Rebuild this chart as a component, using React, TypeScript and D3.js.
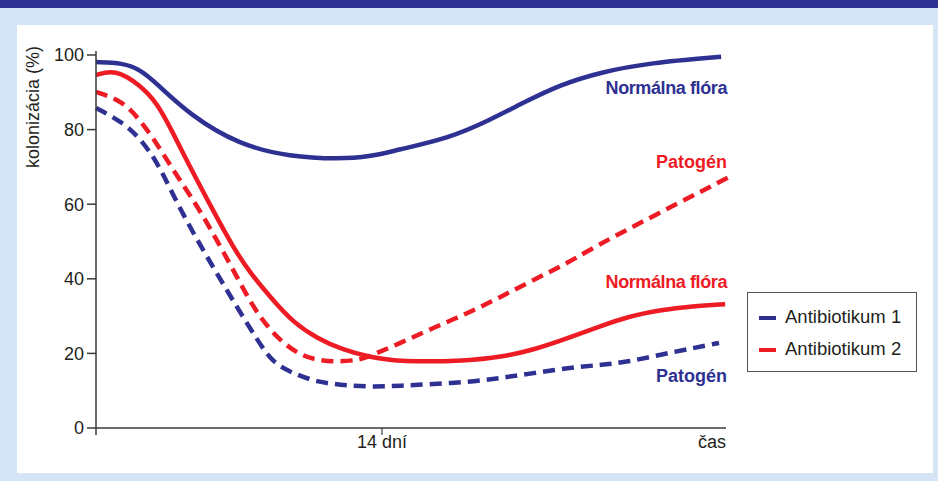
import React from "react";
import * as d3 from "d3";

// x = days, y = colonization (%)
const xTicks = [14];
const xTickLabels = ["14 dní"];
const yTicks = [0, 20, 40, 60, 80, 100];

const a1NormalDays = [0, 1.3, 2.2, 3.0, 4.6, 7.0, 9.5, 11.9, 13.4, 14.7, 17.3, 19.3, 20.8, 22.7, 24.7, 27.1, 30.6];
const a1NormalVals = [98.1, 97.9, 96.0, 92.2, 83.9, 75.9, 72.7, 72.1, 72.7, 74.5, 77.7, 82.6, 86.9, 92.0, 95.4, 97.9, 99.5];

const a2NormalDays = [0, 0.93, 2.15, 3.0, 3.77, 4.6, 5.43, 6.7, 7.54, 8.66, 9.64, 10.8, 12.1, 13.4, 14.9, 18.2, 19.8, 21.4, 23.1, 24.7, 26.0, 27.6, 29.2, 30.8];
const a2NormalVals = [94.6, 96.2, 92.0, 87.1, 79.1, 70.0, 61.4, 48.5, 41.6, 34.3, 28.4, 24.1, 20.9, 19.0, 17.7, 18.0, 19.0, 20.9, 24.1, 27.3, 29.8, 31.6, 32.7, 33.2];

const a2PathDays = [0, 1.3, 2.15, 3.0, 3.77, 4.6, 5.6, 6.9, 7.7, 8.4, 9.15, 10.0, 10.8, 11.8, 12.8, 13.3, 14.9, 16.5, 18.2, 19.8, 21.4, 23.1, 24.7, 31.0];
const a2PathVals = [90.1, 87.7, 82.6, 76.1, 69.2, 62.5, 53.6, 40.5, 32.4, 27.1, 22.8, 19.6, 18.2, 17.7, 18.2, 19.0, 22.8, 26.8, 30.8, 35.1, 39.7, 44.2, 49.6, 67.3];

const a1PathDays = [0, 1.3, 2.15, 3.0, 3.77, 4.75, 5.9, 6.9, 7.9, 8.66, 9.64, 10.8, 12.1, 13.4, 14.9, 16.5, 18.2, 19.8, 21.4, 23.1, 24.7, 26.0, 27.6, 29.2, 30.5];
const a1PathVals = [85.8, 82.0, 77.7, 71.3, 62.5, 52.3, 41.6, 32.4, 23.6, 17.4, 14.7, 12.3, 11.5, 11.0, 11.3, 11.8, 12.3, 13.4, 14.7, 16.1, 16.9, 17.7, 19.6, 21.4, 22.8];

const legendLabels = ["Antibiotikum 1", "Antibiotikum 2"];
const yAxisTitle = "kolonizácia (%)";
const xAxisEnd = "čas";

const BLUE = "#2e3192";
const RED = "#ed1c24";
const FONT = "'Liberation Sans', Arial, Helvetica, sans-serif";

export default function App() {
  const W = 938, H = 481;
  const x = d3.scaleLinear().domain([0, 30.84]).range([96, 726]);
  const y = d3.scaleLinear().domain([0, 100]).range([428, 55]);
  const line = d3
    .line<[number, number]>()
    .x((d) => x(d[0]))
    .y((d) => y(d[1]))
    .curve(d3.curveBasis);
  const zip = (a: number[], b: number[]) => a.map((v, i) => [v, b[i]] as [number, number]);

  const series = [
    { d: zip(a1NormalDays, a1NormalVals), color: BLUE, dash: null },
    { d: zip(a2NormalDays, a2NormalVals), color: RED, dash: null },
    { d: zip(a2PathDays, a2PathVals), color: RED, dash: "12,7" },
    { d: zip(a1PathDays, a1PathVals), color: BLUE, dash: "12,7" },
  ];

  const labels = [
    { t: "Normálna flóra", color: BLUE, y: 94, ls: -0.4 },
    { t: "Patogén", color: RED, y: 168, ls: 0 },
    { t: "Normálna flóra", color: RED, y: 288, ls: -0.4 },
    { t: "Patogén", color: BLUE, y: 382, ls: 0 },
  ];

  const axisColor = "#3a3a3a";

  return (
    <svg
      width={W}
      height={H}
      style={{ position: "absolute", left: 0, top: 0, display: "block" }}
      fontFamily={FONT}
    >
      <rect x={0} y={0} width={W} height={H} fill="#d5e5f5" />
      <rect x={0} y={0} width={W} height={8} fill={BLUE} />
      <rect x={17} y={25} width={916} height={448} fill="#fff" />

      {/* series */}
      {series.map((s, i) => (
        <path
          key={i}
          d={line(s.d) || ""}
          fill="none"
          stroke={s.color}
          strokeWidth={4.5}
          strokeDasharray={s.dash || undefined}
          strokeLinejoin="round"
        />
      ))}

      {/* y axis */}
      <line x1={x(0)} x2={x(0)} y1={y(100) - 4} y2={435} stroke={axisColor} strokeWidth={1.5} />
      {yTicks.map((t) => (
        <g key={t}>
          <line x1={87} x2={x(0)} y1={y(t)} y2={y(t)} stroke={axisColor} strokeWidth={1.5} />
          <text x={84} y={y(t)} dy="0.35em" textAnchor="end" fontSize={18} fill="#231f20">
            {t}
          </text>
        </g>
      ))}
      <text
        transform={`translate(39,107) rotate(-90)`}
        textAnchor="middle"
        fontSize={18}
        fill="#231f20"
      >
        {yAxisTitle}
      </text>

      {/* x axis */}
      <line x1={x(0)} x2={x(30.84)} y1={y(0)} y2={y(0)} stroke={axisColor} strokeWidth={1.5} />
      {xTicks.map((t, i) => (
        <g key={t}>
          <line x1={x(t)} x2={x(t)} y1={y(0)} y2={y(0) + 7} stroke={axisColor} strokeWidth={1.2} />
          <text x={x(t)} y={y(0) + 20} textAnchor="middle" fontSize={18} fill="#231f20">
            {xTickLabels[i]}
          </text>
        </g>
      ))}
      <text x={x(30.84)} y={y(0) + 20} textAnchor="end" fontSize={18} fill="#231f20">
        {xAxisEnd}
      </text>

      {/* curve labels */}
      {labels.map((l, i) => (
        <text
          key={i}
          x={727}
          y={l.y}
          textAnchor="end"
          fontSize={18}
          fontWeight="bold"
          fill={l.color}
          letterSpacing={l.ls}
        >
          {l.t}
        </text>
      ))}

      {/* legend */}
      <rect x={747.5} y={292.5} width={169} height={79} fill="#fff" stroke="#555" strokeWidth={1} />
      {legendLabels.map((l, i) => (
        <g key={l}>
          <line
            x1={759}
            x2={776}
            y1={318 + i * 32}
            y2={318 + i * 32}
            stroke={i === 0 ? BLUE : RED}
            strokeWidth={4}
          />
          <text x={785} y={323 + i * 32} fontSize={18.5} fill="#231f20">
            {l}
          </text>
        </g>
      ))}
    </svg>
  );
}
